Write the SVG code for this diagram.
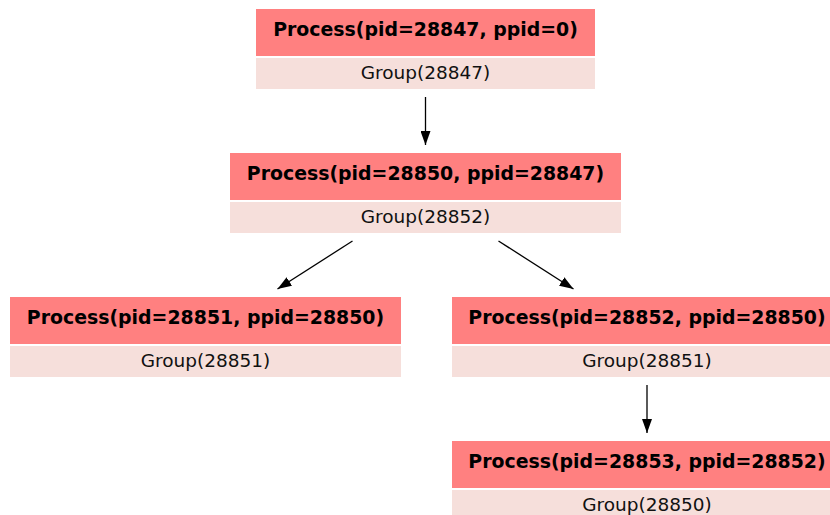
<svg xmlns="http://www.w3.org/2000/svg" width="830" height="515" viewBox="0 0 830 515">
<defs>
<style>
.hd{fill:#ff8080}
.gr{fill:#f6dfdb}
.t1{font-family:"DejaVu Sans",sans-serif;font-weight:bold;font-size:18.9px;text-anchor:middle;fill:#000}
.t2{font-family:"DejaVu Sans",sans-serif;font-size:18.5px;text-anchor:middle;fill:#111}
.e{stroke:#000;stroke-width:1.3;fill:none;marker-end:url(#ah)}
</style>
<marker id="ah" viewBox="0 0 14 10" refX="14" refY="5" markerWidth="14" markerHeight="10" markerUnits="userSpaceOnUse" orient="auto">
<path d="M0,0 L14,5 L0,10 Z" fill="#000"/>
</marker>
</defs>
<rect width="830" height="515" fill="#fff"/>
<g id="edges">
<line class="e" x1="425.5" y1="97" x2="425.5" y2="145"/>
<line class="e" x1="352.5" y1="241" x2="277.5" y2="289"/>
<line class="e" x1="498.5" y1="241" x2="573.5" y2="289"/>
<line class="e" x1="647" y1="385" x2="647" y2="433"/>
</g>
<g id="p28847">
<rect class="hd" x="256" y="9" width="339" height="47"/>
<rect class="gr" x="256" y="58" width="339" height="31"/>
<text class="t1" x="425.5" y="36">Process(pid=28847, ppid=0)</text>
<text class="t2" x="425.5" y="79">Group(28847)</text>
</g>
<g id="p28850">
<rect class="hd" x="230" y="153" width="391" height="47"/>
<rect class="gr" x="230" y="202" width="391" height="31"/>
<text class="t1" x="425.5" y="180">Process(pid=28850, ppid=28847)</text>
<text class="t2" x="425.5" y="223">Group(28852)</text>
</g>
<g id="p28851">
<rect class="hd" x="10" y="297" width="391" height="47"/>
<rect class="gr" x="10" y="346" width="391" height="31"/>
<text class="t1" x="205.5" y="324">Process(pid=28851, ppid=28850)</text>
<text class="t2" x="205.5" y="367">Group(28851)</text>
</g>
<g id="p28852">
<rect class="hd" x="452" y="297" width="391" height="47"/>
<rect class="gr" x="452" y="346" width="391" height="31"/>
<text class="t1" x="647" y="324">Process(pid=28852, ppid=28850)</text>
<text class="t2" x="647" y="367">Group(28851)</text>
</g>
<g id="p28853">
<rect class="hd" x="452" y="441" width="391" height="47"/>
<rect class="gr" x="452" y="490" width="391" height="31"/>
<text class="t1" x="647" y="468">Process(pid=28853, ppid=28852)</text>
<text class="t2" x="647" y="511">Group(28850)</text>
</g>
</svg>
